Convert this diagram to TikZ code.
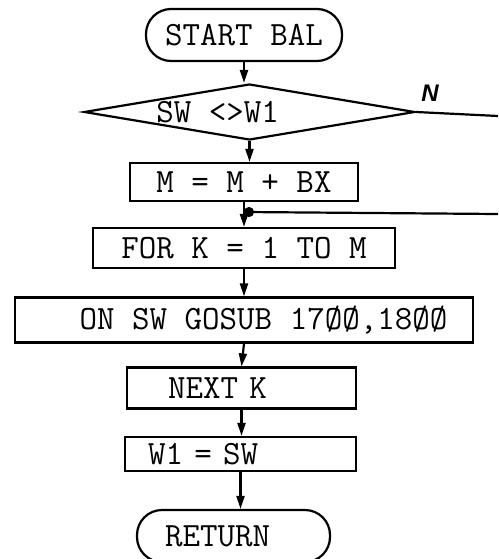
\documentclass[tikz,border=0pt]{standalone}
\usepackage{fontspec}
\setsansfont{Liberation Sans}
\usetikzlibrary{arrows.meta,shapes.geometric}

\begin{document}
\begin{tikzpicture}[x=1pt,y=-1pt,line width=2.2pt,
    every node/.style={font=\ttfamily\fontsize{34}{36}\selectfont,inner ysep=0pt},
    proc/.style={draw,minimum height=#1,inner xsep=0pt},
    term/.style={draw,rounded corners=25pt,minimum height=52pt,minimum width=#1},
    decide/.style={draw,diamond,minimum width=331pt,minimum height=56pt,inner sep=0pt},
    lpad/.style={align=left,inner xsep=#1},
    flow/.style={-{Triangle[length=13pt,width=8pt]}}]
                \useasboundingbox (0,0) rectangle (498,559);
                % terminals and boxes
                \node[term=196pt] (start) at (244,35) {START BAL};
                \node[decide] (sw) at (249.5,112) {};
                \node[anchor=west] (swtext) at (152,112) {SW <>W1};
                \node[proc=38pt,minimum width=228pt] (bx) at (244,182) {M = M + BX};
                \node[proc=40pt,minimum width=302pt] (fork) at (244,248) {FOR K = 1 TO M};
                \node[proc=45pt,minimum width=458pt] (gosub) at (244,320)
                    {\hspace*{39pt}ON SW GOSUB 17ØØ,18ØØ};
                \node[proc=41pt,lpad=41pt,text width=147pt] (nextk) at (241.5,388) {NEXT K};
                \node[proc=34pt,lpad=23pt,text width=185pt] (wone) at (240.5,454) {W1 = SW};
                \node[term=193pt,lpad=28pt,text width=137pt] (ret) at (233.5,536) {RETURN};
                % main line
                \draw[flow] (start.south) -- (start.south |- sw.north);
                \draw[flow] (sw.south) -- (sw.south |- bx.north);
                \coordinate (jn) at (244,212);
                \draw[flow] (bx.south) -- (jn) -- (jn |- fork.north);
                \draw[flow] (fork.south) -- (fork.south |- gosub.north);
                \draw[flow] (gosub.south) -- (nextk.north);
                \draw[flow] (nextk.south) -- (nextk.south |- wone.north);
                \draw[flow] (wone.south) -- (wone.south |- ret.north);
                % no branch and loop return
                \scope
                \coordinate (nout) at (498,116);
                \coordinate (loopin) at (498,214);
                \draw (sw.east) -- (nout);
                \node[font=\sffamily\bfseries\itshape\fontsize{24}{24}\selectfont] (no) at (430,93) {N};
                \draw[-{Circle[length=10pt]}] (loopin) -- (jn);
                \endscope
            \end{tikzpicture}
\end{document}
